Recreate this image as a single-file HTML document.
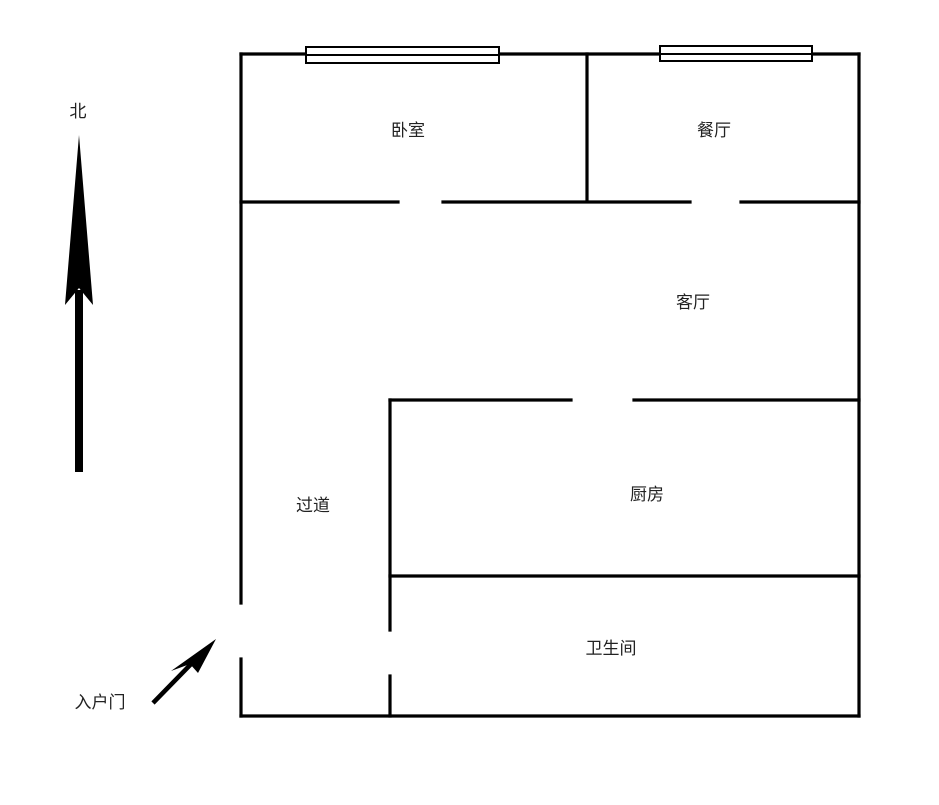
<!DOCTYPE html>
<html><head><meta charset="utf-8"><style>
html,body{margin:0;padding:0;background:#fff;}
svg text{font-family:"Liberation Sans","Noto Sans CJK SC",sans-serif;font-size:17px;fill:#222;}
</style></head><body>
<svg width="939" height="800" viewBox="0 0 939 800" xmlns="http://www.w3.org/2000/svg">
<g stroke="#000" stroke-width="3.2" fill="none" stroke-linecap="square">
<line x1="241" y1="54" x2="859" y2="54"/>
<line x1="859" y1="54" x2="859" y2="716"/>
<line x1="241" y1="716" x2="859" y2="716"/>
<line x1="241" y1="54" x2="241" y2="603"/>
<line x1="241" y1="659" x2="241" y2="716"/>
<line x1="587" y1="54" x2="587" y2="200"/>
<line x1="241" y1="202" x2="398" y2="202"/>
<line x1="443" y1="202" x2="690" y2="202"/>
<line x1="741" y1="202" x2="859" y2="202"/>
<line x1="390" y1="400" x2="571" y2="400"/>
<line x1="634" y1="400" x2="859" y2="400"/>
<line x1="390" y1="400" x2="390" y2="630"/>
<line x1="390" y1="676" x2="390" y2="716"/>
<line x1="390" y1="576" x2="859" y2="576"/>
</g>
<g stroke="#000" stroke-width="2" fill="#fff">
<rect x="306" y="47" width="193" height="16"/>
<line x1="306" y1="55" x2="499" y2="55"/>
<rect x="660" y="46" width="152" height="15"/>
<line x1="660" y1="54" x2="812" y2="54"/>
</g>
<line x1="79" y1="472" x2="79" y2="290" stroke="#000" stroke-width="8"/>
<polygon points="79,135 65,305 79,288 93,305" fill="#000"/>
<line x1="153" y1="703" x2="195" y2="660" stroke="#000" stroke-width="4.5"/>
<polygon points="216,639 171,671 190,664 198,673" fill="#000"/>
<text x="408" y="136" text-anchor="middle">卧室</text>
<text x="714" y="136" text-anchor="middle">餐厅</text>
<text x="693" y="308" text-anchor="middle">客厅</text>
<text x="313" y="511" text-anchor="middle">过道</text>
<text x="647" y="500" text-anchor="middle">厨房</text>
<text x="611" y="654" text-anchor="middle">卫生间</text>
<text x="78" y="117" text-anchor="middle">北</text>
<text x="100" y="708" text-anchor="middle">入户门</text>
</svg>
</body></html>
